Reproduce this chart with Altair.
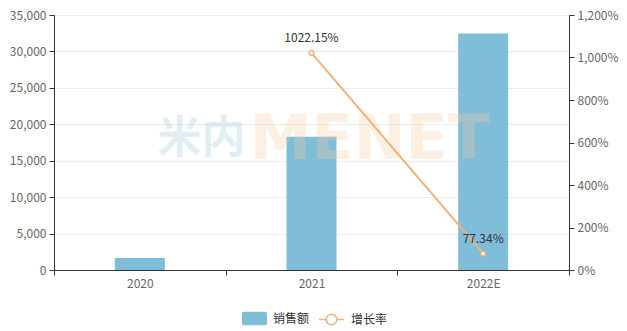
import altair as alt
import pandas as pd

categories = ["2020", "2021", "2022E"]
sales = [1630, 18300, 32450]
growth = [None, 10.2215, 0.7734]
growth_labels = ["", "1022.15%", "77.34%"]
left_ticks = [0, 5000, 10000, 15000, 20000, 25000, 30000, 35000]
right_ticks = [0, 2, 4, 6, 8, 10, 12]
series_bar = "销售额"
series_line = "增长率"
watermark_cn = ["米内"]
watermark_en = ["MENET"]
watermark_at = ["2021"]
watermark_level = [17800]

BAR = "#7fbdd9"
LINE = "#f2b07a"
FONT = "Noto Sans CJK SC"

df = pd.DataFrame({
    "year": categories,
    "sales": sales,
    "growth": growth,
    "glabel": growth_labels,
    "s1": series_bar,
    "s2": series_line,
})
wm_df = pd.DataFrame({"year": watermark_at, "sales": watermark_level,
                      "cn": watermark_cn, "en": watermark_en})

x_enc = alt.X(
    "year:N", sort=categories,
    scale=alt.Scale(domain=categories, paddingInner=0, paddingOuter=0),
    axis=alt.Axis(title=None, labelAngle=0, tickBand="extent", domainColor="#333",
                  tickColor="#333", tickSize=5, labelColor="#666", labelFontSize=12,
                  labelPadding=3, labelFont=FONT),
)
y_left = alt.Y("sales:Q", scale=alt.Scale(domain=[0, 35000], nice=False),
               axis=alt.Axis(title=None, values=left_ticks, format=",.0f", domainColor="#333",
                             tickColor="#333", tickSize=5, labelColor="#666", labelFontSize=12,
                             labelPadding=3, gridColor="#ececec", labelFont=FONT))

bar_path = ("M-0.84,-0.54 L0.84,-0.54 Q1,-0.54 1,-0.38 L1,0.38 Q1,0.54 0.84,0.54 "
            "L-0.84,0.54 Q-1,0.54 -1,0.38 L-1,-0.38 Q-1,-0.54 -0.84,-0.54 Z")
line_path = ("M-1,0 L-0.42,0 M0.42,0 L1,0 M-0.42,0 A0.42,0.42 0 1,0 0.42,0 "
             "A0.42,0.42 0 1,0 -0.42,0 Z")

base = alt.Chart(df)

bars = base.mark_bar(width=50).encode(
    x=x_enc, y=y_left,
    fill=alt.Fill("s1:N", scale=alt.Scale(domain=[series_bar], range=[BAR]),
                  legend=alt.Legend(title=None, orient="none", legendX=188, legendY=291,
                                    symbolType=bar_path, symbolSize=625, symbolStrokeWidth=0,
                                    labelFontSize=12, labelColor="#333", labelOffset=6,
                                    labelFont=FONT, padding=0)),
)

wm_base = alt.Chart(wm_df)
wm_cn = wm_base.mark_text(align="right", baseline="middle", dx=-66, fontSize=44,
                          fontWeight="bold", font=FONT, fill="#a9cfe0", fillOpacity=0.35).encode(
    x=x_enc, y=y_left, text="cn:N")
wm_en = wm_base.mark_text(align="left", baseline="middle", dx=-62, fontSize=62,
                          fontWeight="bold", font="DejaVu Sans", fill="#f9c9a0", fillOpacity=0.3).encode(
    x=x_enc, y=y_left, text="en:N")

left = alt.layer(bars, wm_cn, wm_en)

gdf = base.transform_filter("isValid(datum.growth)")
y_right = alt.Y("growth:Q", scale=alt.Scale(domain=[0, 12], nice=False),
                axis=alt.Axis(title=None, orient="right", values=right_ticks, format=",.0%",
                              domainColor="#333", tickColor="#333", tickSize=5, labelColor="#666",
                              labelFontSize=12, labelPadding=3, grid=False, labelFont=FONT))

line = gdf.mark_line(strokeWidth=2).encode(
    x=x_enc, y=y_right,
    stroke=alt.Stroke("s2:N", scale=alt.Scale(domain=[series_line], range=[LINE]),
                      legend=alt.Legend(title=None, orient="none", legendX=264, legendY=291,
                                        symbolType=line_path, symbolSize=625,
                                        symbolStrokeWidth=1.5, symbolFillColor="white",
                                        labelFontSize=12, labelColor="#333", labelOffset=6,
                                        labelFont=FONT, padding=0)),
)
points = gdf.mark_point(filled=True, fill="white", stroke=LINE, strokeWidth=1.5,
                        size=22, opacity=1).encode(x=x_enc, y=y_right)
labels = gdf.mark_text(baseline="bottom", dy=-8, fontSize=12, color="#333", font=FONT).encode(
    x=x_enc, y=y_right, text="glabel:N")

right = alt.layer(line, points, labels)

chart = alt.layer(left, right).resolve_scale(y="independent").properties(
    width=515, height=255,
    autosize=alt.AutoSizeParams(type="none"),
    padding={"left": 54, "top": 15, "right": 58, "bottom": 61},
).configure_view(stroke=None).configure(background="white")

chart.save("out.html", embed_options={"renderer": "svg", "actions": False})
